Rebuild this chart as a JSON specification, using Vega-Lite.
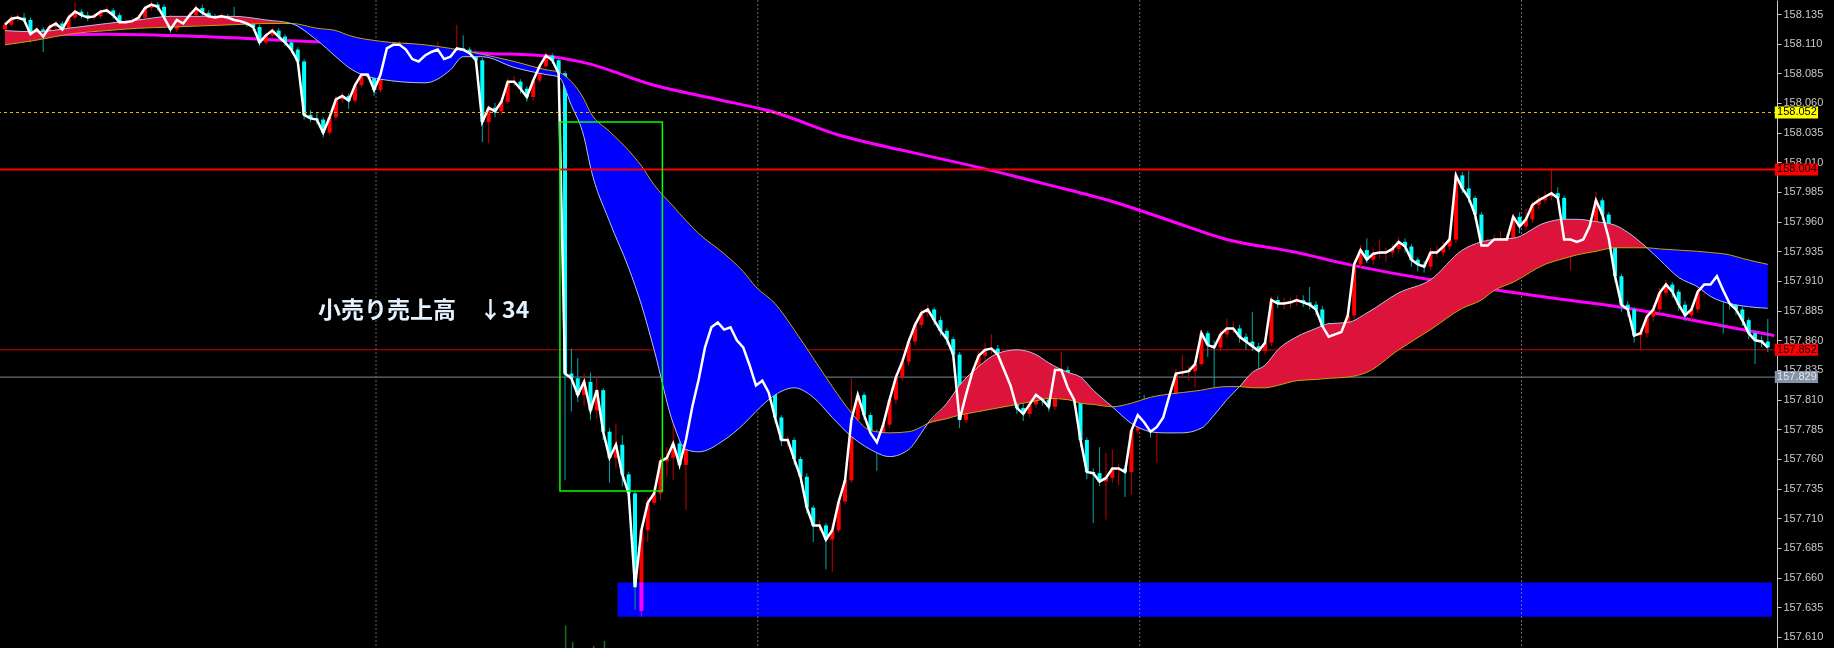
{
"$schema":"https://vega.github.io/schema/vega-lite/v6.json",
"width":1777,"height":648,
"autosize":{"type":"none"},
"padding":{"left":0,"top":0,"right":57,"bottom":0},
"background":"#000000",
"config":{"view":{"stroke":null}},
"resolve":{"axis":{"y":"independent","x":"independent"}},
"datasets":{
"bars":[
{"i":0,"o":158.122,"h":158.129,"l":158.119,"c":158.126},
{"i":1,"o":158.126,"h":158.134,"l":158.124,"c":158.131},
{"i":2,"o":158.131,"h":158.135,"l":158.129,"c":158.132},
{"i":3,"o":158.132,"h":158.136,"l":158.128,"c":158.130},
{"i":4,"o":158.130,"h":158.132,"l":158.111,"c":158.118},
{"i":5,"o":158.118,"h":158.124,"l":158.115,"c":158.122},
{"i":6,"o":158.122,"h":158.124,"l":158.103,"c":158.116},
{"i":7,"o":158.116,"h":158.127,"l":158.114,"c":158.124},
{"i":8,"o":158.124,"h":158.129,"l":158.121,"c":158.127},
{"i":9,"o":158.127,"h":158.129,"l":158.119,"c":158.122},
{"i":10,"o":158.122,"h":158.135,"l":158.120,"c":158.132},
{"i":11,"o":158.132,"h":158.145,"l":158.130,"c":158.137},
{"i":12,"o":158.137,"h":158.139,"l":158.131,"c":158.134},
{"i":13,"o":158.134,"h":158.137,"l":158.129,"c":158.132},
{"i":14,"o":158.132,"h":158.136,"l":158.130,"c":158.133},
{"i":15,"o":158.133,"h":158.139,"l":158.131,"c":158.137},
{"i":16,"o":158.137,"h":158.141,"l":158.135,"c":158.138},
{"i":17,"o":158.138,"h":158.140,"l":158.131,"c":158.134},
{"i":18,"o":158.134,"h":158.136,"l":158.125,"c":158.128},
{"i":19,"o":158.128,"h":158.131,"l":158.124,"c":158.128},
{"i":20,"o":158.128,"h":158.132,"l":158.126,"c":158.129},
{"i":21,"o":158.129,"h":158.134,"l":158.127,"c":158.132},
{"i":22,"o":158.132,"h":158.142,"l":158.130,"c":158.140},
{"i":23,"o":158.140,"h":158.146,"l":158.138,"c":158.143},
{"i":24,"o":158.143,"h":158.145,"l":158.138,"c":158.141},
{"i":25,"o":158.141,"h":158.143,"l":158.129,"c":158.132},
{"i":26,"o":158.132,"h":158.134,"l":158.119,"c":158.122},
{"i":27,"o":158.122,"h":158.132,"l":158.120,"c":158.130},
{"i":28,"o":158.130,"h":158.132,"l":158.124,"c":158.127},
{"i":29,"o":158.127,"h":158.137,"l":158.125,"c":158.134},
{"i":30,"o":158.134,"h":158.143,"l":158.132,"c":158.140},
{"i":31,"o":158.140,"h":158.143,"l":158.133,"c":158.136},
{"i":32,"o":158.136,"h":158.138,"l":158.130,"c":158.133},
{"i":33,"o":158.133,"h":158.135,"l":158.128,"c":158.132},
{"i":34,"o":158.132,"h":158.136,"l":158.129,"c":158.133},
{"i":35,"o":158.133,"h":158.135,"l":158.128,"c":158.132},
{"i":36,"o":158.132,"h":158.141,"l":158.127,"c":158.130},
{"i":37,"o":158.130,"h":158.132,"l":158.126,"c":158.129},
{"i":38,"o":158.129,"h":158.131,"l":158.124,"c":158.127},
{"i":39,"o":158.127,"h":158.129,"l":158.121,"c":158.124},
{"i":40,"o":158.124,"h":158.126,"l":158.108,"c":158.111},
{"i":41,"o":158.111,"h":158.119,"l":158.109,"c":158.117},
{"i":42,"o":158.117,"h":158.123,"l":158.115,"c":158.121},
{"i":43,"o":158.121,"h":158.123,"l":158.113,"c":158.116},
{"i":44,"o":158.116,"h":158.118,"l":158.108,"c":158.111},
{"i":45,"o":158.111,"h":158.113,"l":158.102,"c":158.105},
{"i":46,"o":158.105,"h":158.107,"l":158.092,"c":158.095},
{"i":47,"o":158.095,"h":158.097,"l":158.046,"c":158.050},
{"i":48,"o":158.050,"h":158.054,"l":158.044,"c":158.047},
{"i":49,"o":158.047,"h":158.052,"l":158.042,"c":158.046},
{"i":50,"o":158.046,"h":158.048,"l":158.031,"c":158.035},
{"i":51,"o":158.035,"h":158.050,"l":158.033,"c":158.048},
{"i":52,"o":158.048,"h":158.066,"l":158.046,"c":158.063},
{"i":53,"o":158.063,"h":158.069,"l":158.060,"c":158.066},
{"i":54,"o":158.066,"h":158.068,"l":158.055,"c":158.062},
{"i":55,"o":158.062,"h":158.078,"l":158.060,"c":158.075},
{"i":56,"o":158.075,"h":158.087,"l":158.073,"c":158.084},
{"i":57,"o":158.084,"h":158.088,"l":158.080,"c":158.084},
{"i":58,"o":158.084,"h":158.086,"l":158.066,"c":158.071},
{"i":59,"o":158.071,"h":158.086,"l":158.069,"c":158.084},
{"i":60,"o":158.084,"h":158.108,"l":158.082,"c":158.106},
{"i":61,"o":158.106,"h":158.112,"l":158.104,"c":158.109},
{"i":62,"o":158.109,"h":158.112,"l":158.106,"c":158.109},
{"i":63,"o":158.109,"h":158.111,"l":158.102,"c":158.105},
{"i":64,"o":158.105,"h":158.107,"l":158.094,"c":158.097},
{"i":65,"o":158.097,"h":158.100,"l":158.092,"c":158.095},
{"i":66,"o":158.095,"h":158.103,"l":158.093,"c":158.100},
{"i":67,"o":158.100,"h":158.106,"l":158.098,"c":158.103},
{"i":68,"o":158.103,"h":158.112,"l":158.101,"c":158.105},
{"i":69,"o":158.105,"h":158.107,"l":158.094,"c":158.097},
{"i":70,"o":158.097,"h":158.102,"l":158.095,"c":158.099},
{"i":71,"o":158.099,"h":158.126,"l":158.097,"c":158.106},
{"i":72,"o":158.106,"h":158.117,"l":158.102,"c":158.105},
{"i":73,"o":158.105,"h":158.107,"l":158.099,"c":158.102},
{"i":74,"o":158.102,"h":158.104,"l":158.093,"c":158.096},
{"i":75,"o":158.096,"h":158.098,"l":158.027,"c":158.044},
{"i":76,"o":158.044,"h":158.058,"l":158.026,"c":158.056},
{"i":77,"o":158.056,"h":158.060,"l":158.048,"c":158.053},
{"i":78,"o":158.053,"h":158.064,"l":158.050,"c":158.061},
{"i":79,"o":158.061,"h":158.081,"l":158.059,"c":158.078},
{"i":80,"o":158.078,"h":158.083,"l":158.074,"c":158.078},
{"i":81,"o":158.078,"h":158.080,"l":158.068,"c":158.072},
{"i":82,"o":158.072,"h":158.074,"l":158.061,"c":158.065},
{"i":83,"o":158.065,"h":158.081,"l":158.062,"c":158.079},
{"i":84,"o":158.079,"h":158.093,"l":158.077,"c":158.091},
{"i":85,"o":158.091,"h":158.103,"l":158.089,"c":158.100},
{"i":86,"o":158.100,"h":158.102,"l":158.093,"c":158.096},
{"i":87,"o":158.096,"h":158.098,"l":158.082,"c":158.085},
{"i":88,"o":158.085,"h":158.087,"l":157.742,"c":157.832},
{"i":89,"o":157.832,"h":157.853,"l":157.800,"c":157.828},
{"i":90,"o":157.828,"h":157.845,"l":157.808,"c":157.814},
{"i":91,"o":157.814,"h":157.832,"l":157.805,"c":157.825},
{"i":92,"o":157.825,"h":157.833,"l":157.793,"c":157.801},
{"i":93,"o":157.801,"h":157.829,"l":157.794,"c":157.818},
{"i":94,"o":157.818,"h":157.820,"l":157.776,"c":157.783},
{"i":95,"o":157.783,"h":157.786,"l":157.740,"c":157.761},
{"i":96,"o":157.761,"h":157.790,"l":157.752,"c":157.772},
{"i":97,"o":157.772,"h":157.780,"l":157.737,"c":157.747},
{"i":98,"o":157.747,"h":157.749,"l":157.726,"c":157.731},
{"i":99,"o":157.731,"h":157.733,"l":157.633,"c":157.652},
{"i":100,"o":157.632,"h":157.703,"l":157.627,"c":157.700},
{"i":101,"o":157.700,"h":157.728,"l":157.690,"c":157.723},
{"i":102,"o":157.723,"h":157.737,"l":157.721,"c":157.731},
{"i":103,"o":157.731,"h":157.762,"l":157.725,"c":157.758},
{"i":104,"o":157.758,"h":157.770,"l":157.745,"c":157.761},
{"i":105,"o":157.761,"h":157.790,"l":157.742,"c":157.773},
{"i":106,"o":157.773,"h":157.776,"l":157.751,"c":157.755},
{"i":107,"o":157.755,"h":157.780,"l":157.717,"c":157.776},
{"i":108,"o":157.776,"h":157.807,"l":157.774,"c":157.804},
{"i":109,"o":157.804,"h":157.831,"l":157.802,"c":157.827},
{"i":110,"o":157.827,"h":157.858,"l":157.824,"c":157.854},
{"i":111,"o":157.854,"h":157.876,"l":157.830,"c":157.871},
{"i":112,"o":157.871,"h":157.879,"l":157.868,"c":157.875},
{"i":113,"o":157.875,"h":157.877,"l":157.851,"c":157.869},
{"i":114,"o":157.869,"h":157.883,"l":157.866,"c":157.871},
{"i":115,"o":157.871,"h":157.874,"l":157.857,"c":157.860},
{"i":116,"o":157.860,"h":157.866,"l":157.849,"c":157.854},
{"i":117,"o":157.854,"h":157.856,"l":157.833,"c":157.839},
{"i":118,"o":157.839,"h":157.841,"l":157.816,"c":157.822},
{"i":119,"o":157.822,"h":157.830,"l":157.818,"c":157.826},
{"i":120,"o":157.826,"h":157.829,"l":157.810,"c":157.816},
{"i":121,"o":157.816,"h":157.818,"l":157.790,"c":157.795},
{"i":122,"o":157.795,"h":157.797,"l":157.771,"c":157.776},
{"i":123,"o":157.776,"h":157.779,"l":157.770,"c":157.776},
{"i":124,"o":157.776,"h":157.778,"l":157.755,"c":157.760},
{"i":125,"o":157.760,"h":157.762,"l":157.740,"c":157.745},
{"i":126,"o":157.745,"h":157.748,"l":157.714,"c":157.719},
{"i":127,"o":157.719,"h":157.721,"l":157.690,"c":157.704},
{"i":128,"o":157.704,"h":157.708,"l":157.699,"c":157.704},
{"i":129,"o":157.704,"h":157.706,"l":157.667,"c":157.692},
{"i":130,"o":157.692,"h":157.706,"l":157.665,"c":157.700},
{"i":131,"o":157.700,"h":157.727,"l":157.698,"c":157.724},
{"i":132,"o":157.724,"h":157.745,"l":157.722,"c":157.742},
{"i":133,"o":157.742,"h":157.828,"l":157.740,"c":157.793},
{"i":134,"o":157.793,"h":157.817,"l":157.790,"c":157.814},
{"i":135,"o":157.814,"h":157.816,"l":157.793,"c":157.797},
{"i":136,"o":157.797,"h":157.799,"l":157.778,"c":157.782},
{"i":137,"o":157.782,"h":157.785,"l":157.750,"c":157.774},
{"i":138,"o":157.774,"h":157.792,"l":157.770,"c":157.789},
{"i":139,"o":157.789,"h":157.813,"l":157.786,"c":157.810},
{"i":140,"o":157.810,"h":157.832,"l":157.806,"c":157.829},
{"i":141,"o":157.829,"h":157.845,"l":157.826,"c":157.842},
{"i":142,"o":157.842,"h":157.862,"l":157.839,"c":157.859},
{"i":143,"o":157.859,"h":157.876,"l":157.856,"c":157.873},
{"i":144,"o":157.873,"h":157.886,"l":157.870,"c":157.883},
{"i":145,"o":157.883,"h":157.890,"l":157.880,"c":157.886},
{"i":146,"o":157.886,"h":157.888,"l":157.873,"c":157.877},
{"i":147,"o":157.877,"h":157.880,"l":157.864,"c":157.868},
{"i":148,"o":157.868,"h":157.870,"l":157.856,"c":157.861},
{"i":149,"o":157.861,"h":157.863,"l":157.843,"c":157.848},
{"i":150,"o":157.848,"h":157.850,"l":157.786,"c":157.793},
{"i":151,"o":157.793,"h":157.818,"l":157.790,"c":157.814},
{"i":152,"o":157.814,"h":157.837,"l":157.811,"c":157.833},
{"i":153,"o":157.833,"h":157.851,"l":157.830,"c":157.847},
{"i":154,"o":157.847,"h":157.858,"l":157.843,"c":157.852},
{"i":155,"o":157.852,"h":157.865,"l":157.848,"c":157.853},
{"i":156,"o":157.853,"h":157.856,"l":157.844,"c":157.848},
{"i":157,"o":157.848,"h":157.850,"l":157.830,"c":157.835},
{"i":158,"o":157.835,"h":157.838,"l":157.817,"c":157.822},
{"i":159,"o":157.822,"h":157.824,"l":157.798,"c":157.803},
{"i":160,"o":157.803,"h":157.807,"l":157.792,"c":157.798},
{"i":161,"o":157.798,"h":157.810,"l":157.795,"c":157.806},
{"i":162,"o":157.806,"h":157.818,"l":157.803,"c":157.814},
{"i":163,"o":157.814,"h":157.817,"l":157.805,"c":157.810},
{"i":164,"o":157.810,"h":157.813,"l":157.800,"c":157.804},
{"i":165,"o":157.804,"h":157.838,"l":157.801,"c":157.835},
{"i":166,"o":157.835,"h":157.850,"l":157.830,"c":157.835},
{"i":167,"o":157.835,"h":157.838,"l":157.815,"c":157.820},
{"i":168,"o":157.820,"h":157.822,"l":157.805,"c":157.810},
{"i":169,"o":157.810,"h":157.812,"l":157.770,"c":157.776},
{"i":170,"o":157.776,"h":157.778,"l":157.743,"c":157.749},
{"i":171,"o":157.749,"h":157.752,"l":157.706,"c":157.748},
{"i":172,"o":157.748,"h":157.770,"l":157.737,"c":157.741},
{"i":173,"o":157.741,"h":157.765,"l":157.709,"c":157.744},
{"i":174,"o":157.744,"h":157.768,"l":157.740,"c":157.752},
{"i":175,"o":157.752,"h":157.756,"l":157.738,"c":157.752},
{"i":176,"o":157.752,"h":157.755,"l":157.728,"c":157.749},
{"i":177,"o":157.749,"h":157.787,"l":157.730,"c":157.784},
{"i":178,"o":157.784,"h":157.800,"l":157.781,"c":157.797},
{"i":179,"o":157.797,"h":157.814,"l":157.788,"c":157.791},
{"i":180,"o":157.791,"h":157.794,"l":157.778,"c":157.783},
{"i":181,"o":157.783,"h":157.790,"l":157.757,"c":157.787},
{"i":182,"o":157.787,"h":157.798,"l":157.784,"c":157.795},
{"i":183,"o":157.795,"h":157.817,"l":157.792,"c":157.814},
{"i":184,"o":157.814,"h":157.836,"l":157.811,"c":157.832},
{"i":185,"o":157.832,"h":157.848,"l":157.829,"c":157.833},
{"i":186,"o":157.833,"h":157.838,"l":157.826,"c":157.834},
{"i":187,"o":157.834,"h":157.844,"l":157.820,"c":157.840},
{"i":188,"o":157.840,"h":157.869,"l":157.838,"c":157.866},
{"i":189,"o":157.866,"h":157.868,"l":157.846,"c":157.856},
{"i":190,"o":157.856,"h":157.860,"l":157.810,"c":157.854},
{"i":191,"o":157.854,"h":157.868,"l":157.851,"c":157.865},
{"i":192,"o":157.865,"h":157.878,"l":157.862,"c":157.870},
{"i":193,"o":157.870,"h":157.876,"l":157.866,"c":157.870},
{"i":194,"o":157.870,"h":157.873,"l":157.858,"c":157.863},
{"i":195,"o":157.863,"h":157.866,"l":157.852,"c":157.859},
{"i":196,"o":157.859,"h":157.884,"l":157.851,"c":157.855},
{"i":197,"o":157.855,"h":157.858,"l":157.835,"c":157.851},
{"i":198,"o":157.851,"h":157.861,"l":157.848,"c":157.858},
{"i":199,"o":157.858,"h":157.897,"l":157.855,"c":157.894},
{"i":200,"o":157.894,"h":157.897,"l":157.887,"c":157.891},
{"i":201,"o":157.891,"h":157.896,"l":157.886,"c":157.891},
{"i":202,"o":157.891,"h":157.896,"l":157.887,"c":157.892},
{"i":203,"o":157.892,"h":157.898,"l":157.889,"c":157.894},
{"i":204,"o":157.894,"h":157.898,"l":157.888,"c":157.892},
{"i":205,"o":157.892,"h":157.905,"l":157.886,"c":157.890},
{"i":206,"o":157.890,"h":157.893,"l":157.881,"c":157.886},
{"i":207,"o":157.886,"h":157.889,"l":157.868,"c":157.872},
{"i":208,"o":157.872,"h":157.875,"l":157.859,"c":157.863},
{"i":209,"o":157.863,"h":157.869,"l":157.857,"c":157.865},
{"i":210,"o":157.865,"h":157.871,"l":157.861,"c":157.867},
{"i":211,"o":157.867,"h":157.885,"l":157.864,"c":157.881},
{"i":212,"o":157.881,"h":157.928,"l":157.878,"c":157.924},
{"i":213,"o":157.924,"h":157.940,"l":157.921,"c":157.936},
{"i":214,"o":157.936,"h":157.946,"l":157.925,"c":157.928},
{"i":215,"o":157.928,"h":157.937,"l":157.924,"c":157.933},
{"i":216,"o":157.933,"h":157.945,"l":157.929,"c":157.934},
{"i":217,"o":157.934,"h":157.938,"l":157.926,"c":157.934},
{"i":218,"o":157.934,"h":157.941,"l":157.930,"c":157.937},
{"i":219,"o":157.937,"h":157.947,"l":157.934,"c":157.943},
{"i":220,"o":157.943,"h":157.946,"l":157.934,"c":157.939},
{"i":221,"o":157.939,"h":157.941,"l":157.922,"c":157.928},
{"i":222,"o":157.928,"h":157.930,"l":157.918,"c":157.924},
{"i":223,"o":157.924,"h":157.927,"l":157.917,"c":157.922},
{"i":224,"o":157.922,"h":157.938,"l":157.919,"c":157.934},
{"i":225,"o":157.934,"h":157.940,"l":157.930,"c":157.934},
{"i":226,"o":157.934,"h":157.943,"l":157.931,"c":157.939},
{"i":227,"o":157.939,"h":157.949,"l":157.936,"c":157.945},
{"i":228,"o":157.945,"h":158.003,"l":157.942,"c":157.999},
{"i":229,"o":157.999,"h":158.002,"l":157.984,"c":157.988},
{"i":230,"o":157.988,"h":158.003,"l":157.976,"c":157.980},
{"i":231,"o":157.980,"h":157.982,"l":157.961,"c":157.966},
{"i":232,"o":157.966,"h":157.968,"l":157.935,"c":157.940},
{"i":233,"o":157.940,"h":157.946,"l":157.934,"c":157.940},
{"i":234,"o":157.940,"h":157.949,"l":157.937,"c":157.945},
{"i":235,"o":157.945,"h":157.952,"l":157.940,"c":157.945},
{"i":236,"o":157.945,"h":157.950,"l":157.940,"c":157.945},
{"i":237,"o":157.945,"h":157.967,"l":157.942,"c":157.964},
{"i":238,"o":157.964,"h":157.968,"l":157.950,"c":157.956},
{"i":239,"o":157.956,"h":157.971,"l":157.953,"c":157.962},
{"i":240,"o":157.962,"h":157.977,"l":157.959,"c":157.974},
{"i":241,"o":157.974,"h":157.982,"l":157.970,"c":157.978},
{"i":242,"o":157.978,"h":157.986,"l":157.975,"c":157.981},
{"i":243,"o":157.981,"h":158.004,"l":157.978,"c":157.984},
{"i":244,"o":157.984,"h":157.989,"l":157.976,"c":157.980},
{"i":245,"o":157.980,"h":157.982,"l":157.940,"c":157.945},
{"i":246,"o":157.945,"h":157.950,"l":157.919,"c":157.945},
{"i":247,"o":157.945,"h":157.949,"l":157.938,"c":157.943},
{"i":248,"o":157.943,"h":157.950,"l":157.939,"c":157.945},
{"i":249,"o":157.945,"h":157.960,"l":157.941,"c":157.956},
{"i":250,"o":157.956,"h":157.985,"l":157.953,"c":157.978},
{"i":251,"o":157.978,"h":157.980,"l":157.961,"c":157.966},
{"i":252,"o":157.966,"h":157.968,"l":157.941,"c":157.946},
{"i":253,"o":157.946,"h":157.948,"l":157.909,"c":157.914},
{"i":254,"o":157.914,"h":157.916,"l":157.884,"c":157.890},
{"i":255,"o":157.890,"h":157.893,"l":157.880,"c":157.886},
{"i":256,"o":157.886,"h":157.888,"l":157.858,"c":157.864},
{"i":257,"o":157.864,"h":157.870,"l":157.852,"c":157.866},
{"i":258,"o":157.866,"h":157.883,"l":157.862,"c":157.880},
{"i":259,"o":157.880,"h":157.890,"l":157.876,"c":157.886},
{"i":260,"o":157.886,"h":157.904,"l":157.883,"c":157.900},
{"i":261,"o":157.900,"h":157.911,"l":157.897,"c":157.907},
{"i":262,"o":157.907,"h":157.909,"l":157.896,"c":157.901},
{"i":263,"o":157.901,"h":157.903,"l":157.885,"c":157.890},
{"i":264,"o":157.890,"h":157.893,"l":157.876,"c":157.881},
{"i":265,"o":157.881,"h":157.890,"l":157.877,"c":157.886},
{"i":266,"o":157.886,"h":157.904,"l":157.883,"c":157.901},
{"i":267,"o":157.901,"h":157.911,"l":157.898,"c":157.907},
{"i":268,"o":157.907,"h":157.913,"l":157.903,"c":157.907},
{"i":269,"o":157.907,"h":157.928,"l":157.904,"c":157.914},
{"i":270,"o":157.914,"h":157.916,"l":157.866,"c":157.902},
{"i":271,"o":157.902,"h":157.904,"l":157.886,"c":157.891},
{"i":272,"o":157.891,"h":157.894,"l":157.881,"c":157.886},
{"i":273,"o":157.886,"h":157.889,"l":157.872,"c":157.877},
{"i":274,"o":157.877,"h":157.879,"l":157.861,"c":157.866},
{"i":275,"o":157.866,"h":157.868,"l":157.840,"c":157.860},
{"i":276,"o":157.860,"h":157.864,"l":157.854,"c":157.859},
{"i":277,"o":157.859,"h":157.878,"l":157.850,"c":157.854}
],
"ma":[
{"i":0,"f":158.121,"s":158.109,"g":"A","dir":"up"},
{"i":5,"f":158.120,"s":158.113,"g":"A","dir":"up"},
{"i":10,"f":158.123,"s":158.118,"g":"A","dir":"up"},
{"i":16,"f":158.127,"s":158.121,"g":"A","dir":"up"},
{"i":21,"f":158.130,"s":158.123,"g":"A","dir":"up"},
{"i":26,"f":158.133,"s":158.124,"g":"A","dir":"up"},
{"i":31,"f":158.133,"s":158.125,"g":"A","dir":"up"},
{"i":36,"f":158.133,"s":158.126,"g":"A","dir":"up"},
{"i":41,"f":158.130,"s":158.127,"g":"A","dir":"up"},
{"i":45,"f":158.127,"s":158.127,"g":"A","dir":"up"},
{"i":45,"f":158.127,"s":158.127,"g":"B","dir":"down","d":1},
{"i":49,"f":158.113,"s":158.123,"g":"B","dir":"down"},
{"i":52,"f":158.099,"s":158.121,"g":"B","dir":"down"},
{"i":54,"f":158.090,"s":158.117,"g":"B","dir":"down"},
{"i":59,"f":158.080,"s":158.112,"g":"B","dir":"down"},
{"i":66,"f":158.077,"s":158.109,"g":"B","dir":"down"},
{"i":70,"f":158.088,"s":158.106,"g":"B","dir":"down"},
{"i":72,"f":158.099,"s":158.104,"g":"B","dir":"down"},
{"i":75,"f":158.099,"s":158.101,"g":"B","dir":"down"},
{"i":80,"f":158.090,"s":158.095,"g":"B","dir":"down"},
{"i":85,"f":158.084,"s":158.088,"g":"B","dir":"down"},
{"i":87,"f":158.082,"s":158.086,"g":"B","dir":"down"},
{"i":89,"f":158.058,"s":158.078,"g":"B","dir":"down"},
{"i":91,"f":158.031,"s":158.063,"g":"B","dir":"down"},
{"i":92,"f":158.006,"s":158.052,"g":"B","dir":"down"},
{"i":95,"f":157.960,"s":158.036,"g":"B","dir":"down"},
{"i":98,"f":157.921,"s":158.020,"g":"B","dir":"down"},
{"i":100,"f":157.890,"s":158.007,"g":"B","dir":"down"},
{"i":102,"f":157.852,"s":157.991,"g":"B","dir":"down"},
{"i":105,"f":157.790,"s":157.973,"g":"B","dir":"down"},
{"i":107,"f":157.768,"s":157.961,"g":"B","dir":"down"},
{"i":109,"f":157.766,"s":157.950,"g":"B","dir":"down"},
{"i":113,"f":157.776,"s":157.933,"g":"B","dir":"down"},
{"i":116,"f":157.789,"s":157.918,"g":"B","dir":"down"},
{"i":118,"f":157.800,"s":157.905,"g":"B","dir":"down"},
{"i":121,"f":157.814,"s":157.891,"g":"B","dir":"down"},
{"i":124,"f":157.820,"s":157.869,"g":"B","dir":"down"},
{"i":127,"f":157.812,"s":157.845,"g":"B","dir":"down"},
{"i":130,"f":157.795,"s":157.821,"g":"B","dir":"down"},
{"i":133,"f":157.779,"s":157.799,"g":"B","dir":"down"},
{"i":136,"f":157.768,"s":157.784,"g":"B","dir":"down"},
{"i":139,"f":157.762,"s":157.782,"g":"B","dir":"down"},
{"i":142,"f":157.768,"s":157.783,"g":"B","dir":"down"},
{"i":144,"f":157.782,"s":157.787,"g":"B","dir":"down"},
{"i":145,"f":157.790,"s":157.790,"g":"B","dir":"down"},
{"i":145,"f":157.790,"s":157.790,"g":"C","dir":"up","d":1},
{"i":148,"f":157.807,"s":157.794,"g":"C","dir":"up"},
{"i":150,"f":157.822,"s":157.797,"g":"C","dir":"up"},
{"i":153,"f":157.838,"s":157.800,"g":"C","dir":"up"},
{"i":156,"f":157.849,"s":157.803,"g":"C","dir":"up"},
{"i":159,"f":157.852,"s":157.806,"g":"C","dir":"up"},
{"i":162,"f":157.848,"s":157.809,"g":"C","dir":"up"},
{"i":164,"f":157.841,"s":157.811,"g":"C","dir":"up"},
{"i":167,"f":157.833,"s":157.810,"g":"C","dir":"up"},
{"i":169,"f":157.829,"s":157.807,"g":"C","dir":"up"},
{"i":171,"f":157.818,"s":157.806,"g":"C","dir":"up"},
{"i":174,"f":157.804,"s":157.804,"g":"C","dir":"up"},
{"i":174,"f":157.804,"s":157.804,"g":"D","dir":"down","d":1},
{"i":177,"f":157.790,"s":157.807,"g":"D","dir":"down"},
{"i":180,"f":157.783,"s":157.812,"g":"D","dir":"down"},
{"i":182,"f":157.782,"s":157.814,"g":"D","dir":"down"},
{"i":185,"f":157.782,"s":157.816,"g":"D","dir":"down"},
{"i":188,"f":157.786,"s":157.818,"g":"D","dir":"down"},
{"i":190,"f":157.797,"s":157.820,"g":"D","dir":"down"},
{"i":192,"f":157.810,"s":157.821,"g":"D","dir":"down"},
{"i":194,"f":157.821,"s":157.821,"g":"D","dir":"down"},
{"i":194,"f":157.821,"s":157.821,"g":"E","dir":"up","d":1},
{"i":196,"f":157.833,"s":157.820,"g":"E","dir":"up"},
{"i":198,"f":157.839,"s":157.820,"g":"E","dir":"up"},
{"i":200,"f":157.852,"s":157.822,"g":"E","dir":"up"},
{"i":203,"f":157.863,"s":157.826,"g":"E","dir":"up"},
{"i":206,"f":157.870,"s":157.827,"g":"E","dir":"up"},
{"i":208,"f":157.874,"s":157.828,"g":"E","dir":"up"},
{"i":211,"f":157.875,"s":157.829,"g":"E","dir":"up"},
{"i":214,"f":157.883,"s":157.833,"g":"E","dir":"up"},
{"i":219,"f":157.900,"s":157.852,"g":"E","dir":"up"},
{"i":224,"f":157.911,"s":157.869,"g":"E","dir":"up"},
{"i":229,"f":157.936,"s":157.887,"g":"E","dir":"up"},
{"i":232,"f":157.943,"s":157.894,"g":"E","dir":"up"},
{"i":234,"f":157.945,"s":157.902,"g":"E","dir":"up"},
{"i":237,"f":157.946,"s":157.909,"g":"E","dir":"up"},
{"i":242,"f":157.959,"s":157.924,"g":"E","dir":"up"},
{"i":245,"f":157.962,"s":157.929,"g":"E","dir":"up"},
{"i":247,"f":157.962,"s":157.932,"g":"E","dir":"up"},
{"i":250,"f":157.960,"s":157.935,"g":"E","dir":"up"},
{"i":253,"f":157.957,"s":157.938,"g":"E","dir":"up"},
{"i":255,"f":157.951,"s":157.938,"g":"E","dir":"up"},
{"i":258,"f":157.938,"s":157.938,"g":"E","dir":"up"},
{"i":258,"f":157.938,"s":157.938,"g":"F","dir":"down","d":1},
{"i":260,"f":157.928,"s":157.937,"g":"F","dir":"down"},
{"i":263,"f":157.913,"s":157.936,"g":"F","dir":"down"},
{"i":266,"f":157.905,"s":157.935,"g":"F","dir":"down"},
{"i":268,"f":157.897,"s":157.934,"g":"F","dir":"down"},
{"i":271,"f":157.891,"s":157.932,"g":"F","dir":"down"},
{"i":273,"f":157.889,"s":157.929,"g":"F","dir":"down"},
{"i":277,"f":157.887,"s":157.924,"g":"F","dir":"down"}
],
"mag":[
{"i":0,"m":158.117},{"i":16,"m":158.118},{"i":31,"m":158.116},{"i":47,"m":158.112},{"i":59,"m":158.109},{"i":75,"m":158.102},{"i":84,"m":158.100},{"i":91,"m":158.094},{"i":102,"m":158.075},{"i":112,"m":158.063},{"i":121,"m":158.052},{"i":131,"m":158.033},{"i":142,"m":158.019},{"i":152,"m":158.007},{"i":164,"m":157.991},{"i":174,"m":157.977},{"i":183,"m":157.961},{"i":192,"m":157.945},{"i":203,"m":157.934},{"i":211,"m":157.924},{"i":224,"m":157.911},{"i":240,"m":157.898},{"i":255,"m":157.887},{"i":271,"m":157.871},{"i":278,"m":157.864}
],
"boxes":[
{"p":158.052,"k":"y"},{"p":158.004,"k":"r"},{"p":157.852,"k":"r2"},{"p":157.829,"k":"g"}
],
"sub":[
{"i":88.1,"a":157.6197,"b":157.6007},{"i":89.2,"a":157.6058,"b":157.6007},{"i":94.2,"a":157.6066,"b":157.6007},{"i":92.5,"a":157.6025,"b":157.6007}
]
},
"layer":[
{"data":{"values":[{"p":157.852}]},
 "mark":{"type":"rule","strokeWidth":1,"color":"#d00000"},
 "encoding":{
  "y":{"field":"p","type":"quantitative","title":null,"scale":{"domain":[157.6007,158.1468],"nice":false,"zero":false},
   "axis":{"orient":"right","title":null,"grid":false,"values":[158.135,158.11,158.085,158.06,158.035,158.01,157.985,157.96,157.935,157.91,157.885,157.86,157.835,157.81,157.785,157.76,157.735,157.71,157.685,157.66,157.635,157.61],
    "format":".3f","labelColor":"#c8c8c8","labelFont":"Liberation Sans","labelFontSize":11,"tickColor":"#c8c8c8","tickSize":4,"domainColor":"#c8c8c8","domainWidth":1,"labelPadding":2,"labelBaseline":"middle","labelFlush":false,"labelOverlap":false,"labelBound":false}}
 }},
{"data":{"values":[{"p":157.829}]},
 "mark":{"type":"rule","strokeWidth":1,"color":"#778899"},
 "encoding":{"y":{"field":"p","type":"quantitative","axis":null}}},
{"data":{"values":[{"t":58.3},{"t":118.3},{"t":178.3},{"t":238.3}]},
 "mark":{"type":"rule","color":"#6a6a6a","strokeWidth":1,"strokeDash":[2,2]},
 "encoding":{"x":{"field":"t","type":"quantitative","scale":{"domain":[0,277.66],"nice":false,"zero":false},"axis":null}}},
{"data":{"name":"sub"},
 "mark":{"type":"rule","color":"#1f6e1f","strokeWidth":1.5,"clip":true},
 "encoding":{"x":{"field":"i","type":"quantitative","axis":null},"y":{"field":"a","type":"quantitative","axis":null},"y2":{"field":"b"}}},
{"data":{"name":"mag"},
 "mark":{"type":"line","color":"#ff00ff","strokeWidth":3,"interpolate":"monotone","clip":true},
 "encoding":{"x":{"field":"i","type":"quantitative","axis":null},"y":{"field":"m","type":"quantitative","axis":null}}},
{"data":{"name":"bars"},
 "mark":{"type":"rule","strokeWidth":1,"clip":true},
 "encoding":{"x":{"field":"i","type":"quantitative","axis":null},"y":{"field":"l","type":"quantitative","axis":null},"y2":{"field":"h"},
  "color":{"condition":{"test":"datum.c >= datum.o","value":"#c00000"},"value":"#00a8a8"}}},
{"data":{"name":"bars"},
 "mark":{"type":"bar","width":4,"clip":true},
 "encoding":{"x":{"field":"i","type":"quantitative","axis":null},"y":{"field":"o","type":"quantitative","axis":null},"y2":{"field":"c"},
  "color":{"condition":{"test":"datum.c >= datum.o","value":"#ff0000"},"value":"#00ffff"}}},
{"data":{"name":"ma"},
 "mark":{"type":"area","interpolate":"monotone","blend":"difference","clip":true},
 "encoding":{"x":{"field":"i","type":"quantitative","axis":null},"y":{"field":"f","type":"quantitative","axis":null},"y2":{"field":"s"},
  "color":{"field":"dir","type":"nominal","scale":{"domain":["up","down"],"range":["#dc143c","#0000ff"]},"legend":null},
  "detail":{"field":"g"}}},
{"data":{"values":[{"a":96.25,"b":277.66,"p1":157.656,"p2":157.627}]},
 "mark":{"type":"rect","color":"#0000ff","blend":"difference"},
 "encoding":{"x":{"field":"a","type":"quantitative","axis":null},"x2":{"field":"b"},"y":{"field":"p1","type":"quantitative","axis":null},"y2":{"field":"p2"}}},
{"data":{"name":"ma"},"transform":[{"filter":"datum.d != 1"}],
 "mark":{"type":"line","color":"#c8a400","strokeWidth":1,"interpolate":"monotone","clip":true},
 "encoding":{"x":{"field":"i","type":"quantitative","axis":null},"y":{"field":"s","type":"quantitative","axis":null}}},
{"data":{"name":"ma"},"transform":[{"filter":"datum.d != 1"}],
 "mark":{"type":"line","color":"#b0c4de","strokeWidth":1,"interpolate":"monotone","clip":true},
 "encoding":{"x":{"field":"i","type":"quantitative","axis":null},"y":{"field":"f","type":"quantitative","axis":null}}},
{"data":{"name":"bars"},
 "mark":{"type":"line","color":"#ffffff","strokeWidth":2.5,"clip":true},
 "encoding":{"x":{"field":"i","type":"quantitative","axis":null},"y":{"field":"c","type":"quantitative","axis":null}}},
{"data":{"values":[{"p":158.004}]},
 "mark":{"type":"rule","color":"#ff0000","strokeWidth":2},
 "encoding":{"y":{"field":"p","type":"quantitative","axis":null}}},
{"data":{"values":[{"p":158.052}]},
 "mark":{"type":"rule","color":"#e0c000","strokeWidth":1,"strokeDash":[3,3]},
 "encoding":{"y":{"field":"p","type":"quantitative","axis":null}}},
{"data":{"values":[{"a":87.2,"b":103.3,"p1":158.044,"p2":157.733}]},
 "mark":{"type":"rect","fill":"transparent","stroke":"#00ff00","strokeWidth":1.5},
 "encoding":{"x":{"field":"a","type":"quantitative","axis":null},"x2":{"field":"b"},"y":{"field":"p1","type":"quantitative","axis":null},"y2":{"field":"p2"}}},
{"data":{"values":[{"t":49.2,"p":157.885,"label":"小売り売上高　↓34"}]},
 "mark":{"type":"text","align":"left","baseline":"middle","font":"Noto Sans CJK JP","fontWeight":"bold","fontSize":23,"color":"#e4f2ff"},
 "encoding":{"x":{"field":"t","type":"quantitative","axis":null},"y":{"field":"p","type":"quantitative","axis":null},"text":{"field":"label"}}},
{"data":{"name":"boxes"},
 "mark":{"type":"rule","strokeWidth":12,"strokeCap":"butt"},
 "encoding":{"x":{"datum":278.1,"type":"quantitative","axis":null},"x2":{"datum":284.9},"y":{"field":"p","type":"quantitative","axis":null},
  "stroke":{"field":"k","type":"nominal","scale":{"domain":["y","r","r2","g"],"range":["#ffff00","#ff0000","#ff0000","#8494a8"]},"legend":null}}},
{"data":{"name":"boxes"},
 "mark":{"type":"text","align":"left","baseline":"middle","font":"Liberation Sans","fontSize":11},
 "encoding":{"x":{"datum":278.45,"type":"quantitative","axis":null},"y":{"field":"p","type":"quantitative","axis":null},
  "text":{"field":"p","type":"quantitative","format":".3f"},
  "color":{"condition":{"test":"datum.k == 'g'","value":"#e6e6e6"},"value":"#000000"}}}
]
}
